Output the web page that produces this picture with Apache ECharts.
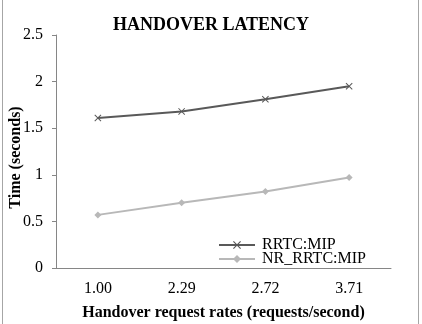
<!DOCTYPE html>
<html>
<head>
<meta charset="utf-8">
<script src="https://cdn.jsdelivr.net/npm/echarts@6/dist/echarts.min.js"></script>
<style>
  html, body { margin: 0; padding: 0; background: #fff; }
  #wrap { position: relative; width: 422px; height: 324px; }
  #chart { width: 422px; height: 324px; }
  #frame {
    position: absolute; left: 2px; top: 0; width: 415px; height: 324px;
    border-left: 1px solid #a6a6a6; border-right: 1px solid #a6a6a6;
    pointer-events: none;
  }
</style>
</head>
<body>
<div id="wrap">
  <div id="chart"></div>
  <div id="frame"></div>
</div>
<script>
  // handover request rates (requests/second)
  var rates = ['1.00', '2.29', '2.72', '3.71']
  // latency in seconds
  var rrtcMip = [1.61, 1.68, 1.81, 1.95]
  var nrRrtcMip = [0.57, 0.70, 0.82, 0.97]

  var serif = '"Liberation Serif", "DejaVu Serif", serif'
  var crossIcon = 'path://M0,1L1,0L5,4L9,0L10,1L6,5L10,9L9,10L5,6L1,10L0,9L4,5Z'

  var chart = echarts.init(document.getElementById('chart'))
  chart.setOption({
    animation: false,
    title: {
      text: 'HANDOVER LATENCY',
      left: 'center',
      top: 11,
      textStyle: {
        fontFamily: serif,
        fontSize: 18,
        fontWeight: 'bold',
        color: '#000'
      }
    },
    legend: {
      orient: 'vertical',
      left: 213,
      top: 232,
      itemWidth: 36,
      itemHeight: 10,
      itemGap: -2,
      textStyle: { fontFamily: serif, fontSize: 16, color: '#000', padding: [0, 0, 0, 2] },
      data: ['RRTC:MIP', 'NR_RRTC:MIP']
    },
    grid: { left: 56, right: 31, top: 35, bottom: 56, containLabel: false, outerBoundsMode: 'none' },
    xAxis: {
      type: 'category',
      data: rates,
      boundaryGap: true,
      name: 'Handover request rates (requests/second)',
      nameLocation: 'middle',
      nameGap: 37,
      nameMoveOverlap: false,
      nameTextStyle: { fontFamily: serif, fontSize: 16, fontWeight: 'bold', color: '#000' },
      axisLine: { lineStyle: { color: '#868686', width: 1 } },
      axisTick: { show: false },
      axisLabel: { fontFamily: serif, fontSize: 16, color: '#000', margin: 13 },
      splitLine: { show: false }
    },
    yAxis: {
      type: 'value',
      min: 0,
      max: 2.5,
      interval: 0.5,
      name: 'Time (seconds)',
      nameLocation: 'middle',
      nameGap: 32,
      nameMoveOverlap: false,
      nameTextStyle: {
        fontFamily: serif, fontSize: 16, fontWeight: 'bold', color: '#000',
        padding: [0, 12, 0, 0]
      },
      axisLine: { show: true, lineStyle: { color: '#868686', width: 1 } },
      axisTick: { show: true, length: 4, lineStyle: { color: '#868686' } },
      axisLabel: { fontFamily: serif, fontSize: 16, color: '#000', margin: 13 },
      splitLine: { show: false }
    },
    series: [
      {
        name: 'RRTC:MIP',
        type: 'line',
        data: rrtcMip,
        symbol: crossIcon,
        symbolSize: 7,
        lineStyle: { color: '#595959', width: 2 },
        itemStyle: { color: '#595959' }
      },
      {
        name: 'NR_RRTC:MIP',
        type: 'line',
        data: nrRrtcMip,
        symbol: 'diamond',
        symbolSize: 7,
        lineStyle: { color: '#b8b8b8', width: 2 },
        itemStyle: { color: '#b8b8b8' }
      }
    ]
  })
</script>
</body>
</html>
